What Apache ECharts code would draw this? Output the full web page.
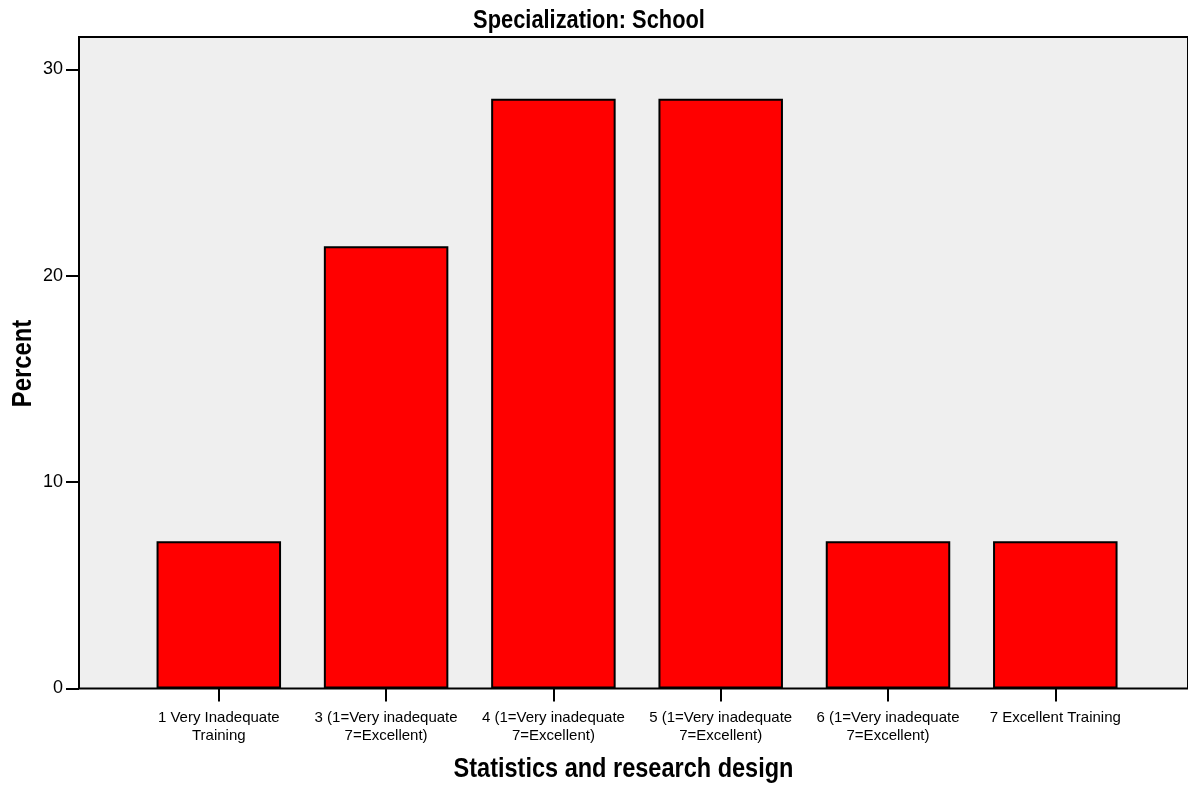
<!DOCTYPE html>
<html>
<head>
<meta charset="utf-8">
<script src="https://cdn.jsdelivr.net/npm/echarts@6/dist/echarts.min.js"></script>
<style>
html,body{margin:0;padding:0;background:#fff;}
#chart{width:1188px;height:792px;}
</style>
</head>
<body>
<div id="chart"></div>
<script>
var categories = [
  "1 Very Inadequate\nTraining",
  "3 (1=Very inadequate\n7=Excellent)",
  "4 (1=Very inadequate\n7=Excellent)",
  "5 (1=Very inadequate\n7=Excellent)",
  "6 (1=Very inadequate\n7=Excellent)",
  "7 Excellent Training"
];
var percentValues = [7.14, 21.43, 28.57, 28.57, 7.14, 7.14];
var yTicks = [0, 10, 20, 30];

var FONT = "'Liberation Sans', Arial, sans-serif";
var NARROW = 0.84;

var chart = echarts.init(document.getElementById('chart'), null, {renderer: 'canvas'});
chart.setOption({
  animation: false,
  backgroundColor: '#ffffff',
  textStyle: {fontFamily: FONT},
  grid: [
    {left: 79, top: 37, width: 1115, bottom: 103.5, show: true,
     backgroundColor: '#efefef', borderColor: '#000', borderWidth: 2, z: 0},
    {left: 135.15, top: 69.3, width: 1003.8, bottom: 103.5, show: false}
  ],
  xAxis: [
    {gridIndex: 0, type: 'value', show: false, min: 0, max: 1},
    {gridIndex: 1, type: 'category', data: categories, boundaryGap: true,
     axisLine: {show: false},
     axisTick: {show: true, alignWithLabel: true, length: 13, inside: false,
                lineStyle: {color: '#000', width: 2}},
     axisLabel: {color: '#000', fontSize: 15, lineHeight: 18, margin: 20,
                 fontFamily: FONT, interval: 0},
     splitLine: {show: false}}
  ],
  yAxis: [
    {gridIndex: 0, type: 'value', show: false, min: 0, max: 1},
    {gridIndex: 1, type: 'value', min: yTicks[0], max: yTicks[yTicks.length - 1], interval: 10,
     offset: 56.15,
     axisLine: {show: false},
     axisTick: {show: true, length: 13, lineStyle: {color: '#000', width: 2}},
     axisLabel: {color: '#000', fontSize: 18, margin: 16, fontFamily: FONT},
     splitLine: {show: false}}
  ],
  series: [{
    type: 'bar',
    xAxisIndex: 1,
    yAxisIndex: 1,
    data: percentValues,
    barWidth: 124.5,
    itemStyle: {color: '#ff0000', borderColor: '#000', borderWidth: 2},
    z: 2
  }],
  graphic: [
    {type: 'text', x: 589, y: 21, z: 10, scaleX: NARROW,
     style: {text: 'Specialization: School', fill: '#000', font: "bold 26px " + FONT,
             textAlign: 'center', textVerticalAlign: 'middle'}},
    {type: 'text', x: 623.5, y: 769, z: 10, scaleX: NARROW,
     style: {text: 'Statistics and research design', fill: '#000', font: "bold 28px " + FONT,
             textAlign: 'center', textVerticalAlign: 'middle'}},
    {type: 'text', x: 23, y: 363.5, rotation: Math.PI / 2, z: 10, scaleX: 0.85,
     style: {text: 'Percent', fill: '#000', font: "bold 28px " + FONT,
             textAlign: 'center', textVerticalAlign: 'middle'}}
  ]
});
</script>
</body>
</html>
